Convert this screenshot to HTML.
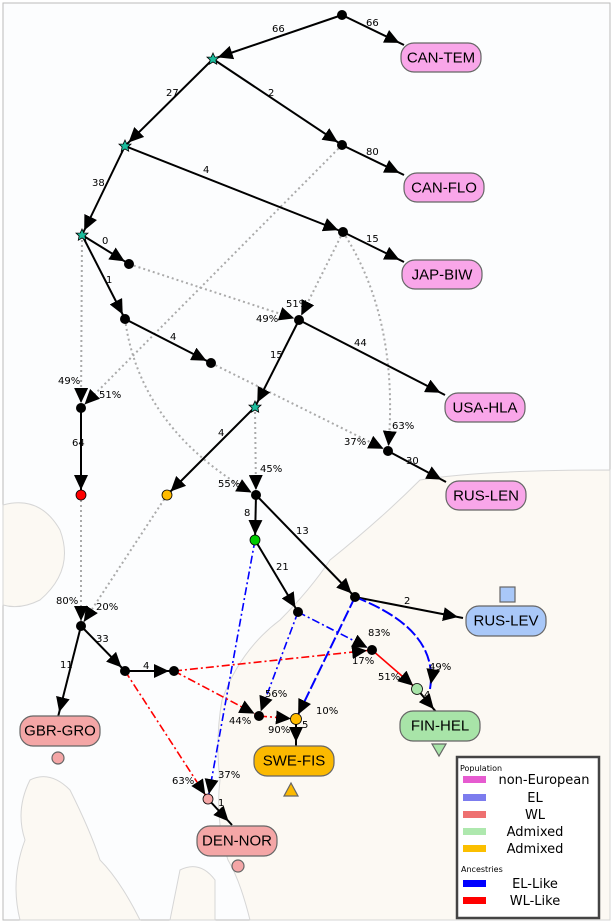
<!DOCTYPE html>
<html><head><meta charset="utf-8"><style>
html,body{margin:0;padding:0;background:#fff}
svg{display:block;font-family:"Liberation Sans","DejaVu Sans",sans-serif}
.e{stroke:#000;stroke-width:2;fill:none;marker-end:url(#ah)}
.d{stroke:#aaa;stroke-width:2;stroke-dasharray:2,3;fill:none;marker-end:url(#ah)}
.b{stroke:#0000ff;stroke-width:1.6;stroke-dasharray:8,3,2,3;fill:none;marker-end:url(#ah)}
.bd{stroke:#0000ff;stroke-width:2;stroke-dasharray:12,3;fill:none;marker-end:url(#ah)}
.r{stroke:#ff0000;stroke-width:1.6;stroke-dasharray:8,3,2,3;fill:none;marker-end:url(#ah)}
.n{fill:#000}
.l{font-size:10px;fill:#000;font-family:"DejaVu Sans",sans-serif}
.p{font-size:10px;fill:#000;font-family:"DejaVu Sans",sans-serif}
.bx{stroke:#666;stroke-width:1.2}
.bt{font-size:15px;text-anchor:middle;dominant-baseline:central}
.land{fill:#fcf9f3;stroke:#d6d6d6;stroke-width:1}
</style></head><body>
<svg width="614" height="924" viewBox="0 0 614 924" xmlns="http://www.w3.org/2000/svg">
<defs>
<marker id="ah" markerUnits="userSpaceOnUse" markerWidth="22" markerHeight="14" refX="20" refY="7" orient="auto">
<path d="M0,0 L15,7 L0,14 z" fill="#000"/></marker>
<polygon id="st" points="0,-6 1.8,-2 6,-1.9 2.9,1 3.7,5.2 0,3 -3.7,5.2 -2.9,1 -6,-1.9 -1.8,-2" fill="#1abc9c" stroke="#000" stroke-width="0.8"/>
</defs>
<rect x="0" y="0" width="614" height="924" fill="#fff"/>
<rect x="3" y="3" width="607" height="917" fill="#fcfdfe" stroke="#bbb" stroke-width="1"/>
<!-- map land -->
<path class="land" d="M3,505 Q40,495 60,530 Q75,570 40,600 Q20,610 3,605 Z"/>
<path class="land" d="M330,560 Q380,520 420,480 Q480,470 610,470 L610,920 L250,920 Q240,880 228,860 Q215,820 220,780 Q215,740 222,700 Q240,650 280,620 Q310,590 330,560 Z"/>
<path class="land" d="M30,780 Q50,770 70,790 Q90,830 100,860 Q120,880 140,920 L20,920 Q10,880 25,840 Q15,810 30,780 Z"/>
<path class="land" d="M180,870 Q200,860 215,880 L215,920 L170,920 Z"/>
<!-- dotted admixture -->
<path class="d" d="M342,145 L81,408"/>
<path class="d" d="M82,235 L81,408"/>
<path class="d" d="M129,264 L299,320"/>
<path class="d" d="M343,232 L299,320"/>
<path class="d" d="M343,232 Q400,320 388,451"/>
<path class="d" d="M211,363 L388,451"/>
<path class="d" d="M125,319 Q140,430 256,495"/>
<path class="d" d="M255,407 L256,495"/>
<path class="d" d="M81,495 L81,626"/>
<path class="d" d="M167,495 L81,626"/>
<!-- black tree edges -->
<path class="e" d="M342,15 L213,59"/>
<path class="e" d="M342,15 L404,45"/>
<path class="e" d="M213,59 L125,146"/>
<path class="e" d="M213,59 L342,145"/>
<path class="e" d="M342,145 L404,175"/>
<path class="e" d="M125,146 L82,235"/>
<path class="e" d="M125,146 L343,232"/>
<path class="e" d="M343,232 L404,262"/>
<path class="e" d="M82,235 L129,264"/>
<path class="e" d="M82,235 L125,319"/>
<path class="e" d="M125,319 L211,363"/>
<path class="e" d="M299,320 L445,395"/>
<path class="e" d="M299,320 L255,407"/>
<path class="e" d="M255,407 L167,495"/>
<path class="e" d="M388,451 L446,482"/>
<path class="e" d="M81,408 L81,495"/>
<path class="e" d="M256,495 L255,540"/>
<path class="e" d="M256,495 L355,597"/>
<path class="e" d="M255,540 L298,612"/>
<path class="e" d="M355,597 L463,618"/>
<path class="e" d="M81,626 L58,717"/>
<path class="e" d="M81,626 L125,671"/>
<path class="e" d="M125,671 L174,671"/>
<path class="e" d="M417,689 L437,713"/>
<path class="e" d="M296,719 L296,747"/>
<path class="e" d="M208,799 L232,825"/>
<!-- blue -->
<path class="b" d="M255,540 L208,799"/>
<path class="b" d="M298,612 L259,716"/>
<path class="b" d="M298,612 L372,650"/>
<path class="bd" d="M355,597 L296,719"/>
<path class="bd" d="M355,597 Q440,630 430,689"/>
<!-- red -->
<path class="r" d="M174,671 L372,650"/>
<path class="r" d="M174,671 L259,716"/>
<path class="r" d="M125,671 L208,799"/>
<path class="r" d="M259,716 L296,719"/>
<path d="M372,650 L417,689" stroke="#f00" stroke-width="1.6" fill="none" marker-end="url(#ah)"/>
<!-- nodes -->
<g class="n">
<circle cx="342" cy="15" r="5"/><circle cx="342" cy="145" r="5"/><circle cx="343" cy="232" r="5"/>
<circle cx="129" cy="264" r="5"/><circle cx="125" cy="319" r="5"/><circle cx="299" cy="320" r="5"/>
<circle cx="211" cy="363" r="5"/><circle cx="81" cy="408" r="5"/><circle cx="388" cy="451" r="5"/>
<circle cx="256" cy="495" r="5"/><circle cx="355" cy="597" r="5"/><circle cx="298" cy="612" r="5"/>
<circle cx="81" cy="626" r="5"/><circle cx="125" cy="671" r="5"/><circle cx="174" cy="671" r="5"/>
<circle cx="372" cy="650" r="5"/><circle cx="259" cy="716" r="5"/>
</g>
<g stroke="#000" stroke-width="0.8">
<circle cx="81" cy="495" r="5" fill="#f00"/>
<circle cx="167" cy="495" r="5" fill="#fb0"/>
<circle cx="255" cy="540" r="5" fill="#0c0"/>
<circle cx="417" cy="689" r="5.5" fill="#a8e4a8"/>
<circle cx="296" cy="719" r="5.5" fill="#fb0"/>
<circle cx="208" cy="799" r="5" fill="#f4a6a6"/>
</g>
<use href="#st" x="213" y="59"/><use href="#st" x="125" y="146"/><use href="#st" x="82" y="235"/><use href="#st" x="255" y="407"/>
<!-- labels on edges -->
<g class="l">
<text x="272" y="32">66</text><text x="366" y="26">66</text>
<text x="166" y="96">27</text><text x="268" y="96">2</text>
<text x="366" y="155">80</text><text x="92" y="186">38</text>
<text x="203" y="173">4</text><text x="366" y="242">15</text>
<text x="102" y="244">0</text><text x="106" y="283">1</text>
<text x="170" y="340">4</text><text x="354" y="346">44</text>
<text x="270" y="358">15</text><text x="218" y="436">4</text>
<text x="406" y="464">30</text><text x="72" y="446">64</text>
<text x="244" y="516">8</text><text x="296" y="534">13</text>
<text x="276" y="570">21</text><text x="404" y="604">2</text>
<text x="60" y="668">11</text><text x="96" y="642">33</text>
<text x="143" y="669">4</text><text x="424" y="698">4</text>
<text x="302" y="728">5</text><text x="218" y="806">1</text>
</g>
<g class="p">
<text x="286" y="307">51%</text><text x="256" y="322">49%</text>
<text x="58" y="384">49%</text><text x="99" y="398">51%</text>
<text x="392" y="429">63%</text><text x="344" y="445">37%</text>
<text x="260" y="472">45%</text><text x="218" y="487">55%</text>
<text x="56" y="604">80%</text><text x="96" y="610">20%</text>
<text x="368" y="636">83%</text><text x="352" y="664">17%</text>
<text x="378" y="680">51%</text><text x="429" y="670">49%</text>
<text x="265" y="697">56%</text><text x="229" y="724">44%</text>
<text x="316" y="714">10%</text><text x="268" y="733">90%</text>
<text x="172" y="784">63%</text><text x="218" y="778">37%</text>
</g>
<!-- population boxes -->
<g class="bx">
<rect x="401" y="43" width="80" height="29" rx="13" fill="#f9a6e9"/>
<rect x="404" y="173" width="80" height="29" rx="13" fill="#f9a6e9"/>
<rect x="402" y="260" width="80" height="29" rx="13" fill="#f9a6e9"/>
<rect x="445" y="393" width="80" height="29" rx="13" fill="#f9a6e9"/>
<rect x="446" y="481" width="80" height="29" rx="13" fill="#f9a6e9"/>
<rect x="466" y="606" width="80" height="30" rx="13" fill="#a9c8f8"/>
<rect x="400" y="711" width="80" height="30" rx="13" fill="#a8e4a8"/>
<rect x="254" y="746" width="80" height="30" rx="13" fill="#fbb900"/>
<rect x="20" y="716" width="80" height="30" rx="13" fill="#f4a6a6"/>
<rect x="197" y="826" width="80" height="30" rx="13" fill="#f4a6a6"/>
<rect x="500" y="587" width="15" height="15" fill="#a9c8f8"/>
<polygon points="432,744 446,744 439,756" fill="#a8e4a8"/>
<polygon points="284,796 298,796 291,783" fill="#fbb900"/>
<circle cx="58" cy="758" r="6" fill="#f4a6a6"/>
<circle cx="238" cy="866" r="6" fill="#f4a6a6"/>
</g>
<g class="bt">
<text x="441" y="58">CAN-TEM</text><text x="444" y="188">CAN-FLO</text>
<text x="442" y="275">JAP-BIW</text><text x="485" y="408">USA-HLA</text>
<text x="486" y="496">RUS-LEN</text><text x="506" y="621">RUS-LEV</text>
<text x="440" y="726">FIN-HEL</text><text x="294" y="761">SWE-FIS</text>
<text x="60" y="731">GBR-GRO</text><text x="237" y="841">DEN-NOR</text>
</g>
<!-- legend -->
<rect x="457" y="757" width="142" height="161" fill="#fff" stroke="#444" stroke-width="2.5"/>
<g font-family="DejaVu Sans,sans-serif">
<text x="460" y="771" font-size="8">Population</text>
<rect x="463" y="776" width="23" height="7" fill="#e65bd0"/>
<rect x="463" y="794" width="23" height="7" fill="#7c7cee"/>
<rect x="463" y="811" width="23" height="7" fill="#ee7070"/>
<rect x="463" y="828" width="23" height="7" fill="#aee8ae"/>
<rect x="463" y="845" width="23" height="7" fill="#fbbf00"/>
<text x="461" y="872" font-size="8">Ancestries</text>
<rect x="463" y="880" width="23" height="7" fill="#0000ff"/>
<rect x="463" y="897" width="23" height="7" fill="#ff0000"/>
<g font-size="13" text-anchor="middle">
<text x="544" y="784">non-European</text>
<text x="535" y="802">EL</text>
<text x="535" y="819">WL</text>
<text x="535" y="836">Admixed</text>
<text x="535" y="853">Admixed</text>
<text x="535" y="888">EL-Like</text>
<text x="535" y="905">WL-Like</text>
</g></g>
</svg>
</body></html>
